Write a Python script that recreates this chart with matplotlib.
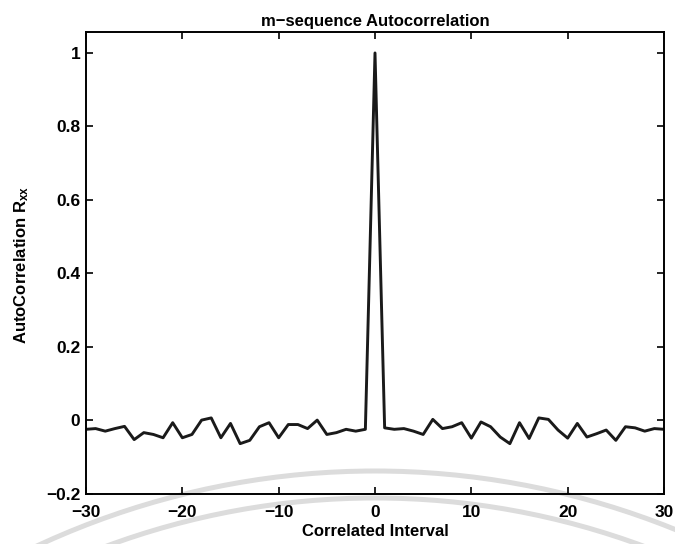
#!/usr/bin/env python
"""m-sequence autocorrelation, redrawn in a MATLAB-like style."""

import matplotlib
matplotlib.use("Agg")
import matplotlib.pyplot as plt
from matplotlib.patches import Arc

# lag values (integer chips) and the read-off autocorrelation
LAGS = list(range(-30, 31))
RXX = [
    -0.024, -0.022, -0.029, -0.022, -0.016, -0.052, -0.033, -0.038, -0.047, -0.006,
    -0.047, -0.038, 0.001, 0.007, -0.047, -0.008, -0.063, -0.054, -0.017, -0.006,
    -0.047, -0.011, -0.011, -0.022, 0.001, -0.038, -0.033, -0.024, -0.029, -0.024,
    1.0,
    -0.020, -0.024, -0.022, -0.029, -0.038, 0.003, -0.022, -0.017, -0.006, -0.048,
    -0.004, -0.017, -0.045, -0.063, -0.006, -0.049, 0.007, 0.003, -0.026, -0.048,
    -0.008, -0.045, -0.036, -0.026, -0.054, -0.017, -0.020, -0.029, -0.022, -0.024,
]
X_TICKS = [-30, -20, -10, 0, 10, 20, 30]
Y_TICKS = [-0.2, 0, 0.2, 0.4, 0.6, 0.8, 1]
Y_TICK_LABELS = ["\u22120.2", "0", "0.2", "0.4", "0.6", "0.8", "1"]

plt.rcParams["font.family"] = ["Liberation Sans", "DejaVu Sans"]
plt.rcParams["mathtext.default"] = "regular"

W, H = 675, 544
fig = plt.figure(figsize=(W / 100, H / 100), dpi=100)
fig.patch.set_facecolor("white")

# faint watermark arcs behind the plot
cx, cy = 375, 1271
for r in (800, 773):
    arc = Arc((cx / W, 1 - cy / H), 2 * r / W, 2 * r / H, theta1=55, theta2=125,
              transform=fig.transFigure, color="#dcdcdc", linewidth=3.6, zorder=0)
    fig.patches.append(arc)

ax = fig.add_axes([86 / W, 1 - 494 / H, (664 - 86) / W, (494 - 32) / H])
ax.set_zorder(1)
ax.patch.set_visible(False)

ax.plot(LAGS, RXX, color="#1a1a1a", linewidth=2.1)

ax.set_xlim(-30, 30)
ax.set_ylim(-0.2, 1.057)
ax.set_xticks(X_TICKS)
ax.set_xticklabels([str(t).replace("-", "\u2212") for t in X_TICKS])
ax.set_yticks(Y_TICKS)
ax.set_yticklabels(Y_TICK_LABELS)
ax.tick_params(direction="in", length=5, width=1.2, top=True, right=True,
               labelsize=12.5, colors="black")
ax.tick_params(axis="x", pad=8)
ax.tick_params(axis="y", pad=4)
for lbl in ax.get_xticklabels() + ax.get_yticklabels():
    lbl.set_fontweight("bold")
for spine in ax.spines.values():
    spine.set_linewidth(1.4)
    spine.set_color("black")

ax.set_title("m\u2212sequence Autocorrelation", fontsize=12, fontweight="bold", pad=4)
ax.set_xlabel("Correlated Interval", fontsize=12, fontweight="bold", labelpad=3)
ax.set_ylabel("AutoCorrelation R$_{xx}$", fontsize=12, fontweight="bold")
ax.yaxis.set_label_coords(-0.095, 0.496)

fig.savefig("out.png", dpi=100)
